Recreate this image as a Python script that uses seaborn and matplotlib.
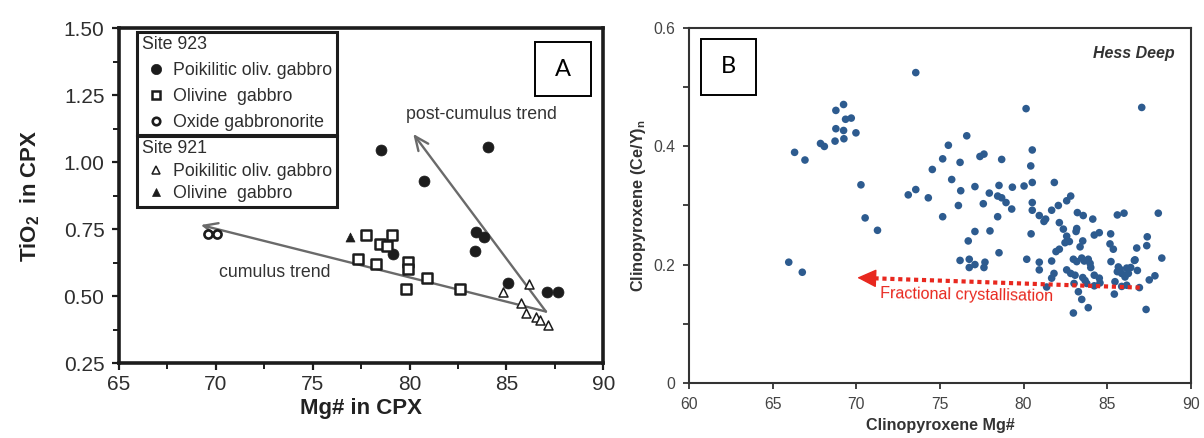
import numpy as np
import pandas as pd
import matplotlib
matplotlib.use("Agg")
import matplotlib.pyplot as plt
import seaborn as sns
from matplotlib.lines import Line2D
from matplotlib.patches import Rectangle

# ---------------- Panel A data (Mg# in CPX vs TiO2 in CPX) ----------------
a_poik923_x = [78.55, 84.07, 80.76, 83.45, 83.86, 83.38, 79.16, 85.07, 87.10, 87.68]
a_poik923_y = [1.047, 1.057, 0.930, 0.740, 0.722, 0.668, 0.658, 0.548, 0.517, 0.517]
a_olgab923_x = [77.75, 78.47, 79.08, 78.85, 77.35, 78.27, 79.94, 79.94, 79.80, 80.88, 82.60]
a_olgab923_y = [0.730, 0.697, 0.730, 0.687, 0.640, 0.619, 0.629, 0.603, 0.528, 0.568, 0.528]
a_oxide923_x = [69.60, 70.05]
a_oxide923_y = [0.732, 0.732]
a_poik921_x = [84.83, 86.15, 85.74, 86.02, 86.54, 86.75, 87.17]
a_poik921_y = [0.517, 0.547, 0.475, 0.437, 0.421, 0.411, 0.392]
a_olgab921_x = [76.90]
a_olgab921_y = [0.722]

a_labels_923 = ["Poikilitic oliv. gabbro", "Olivine  gabbro", "Oxide gabbronorite"]
a_labels_921 = ["Poikilitic oliv. gabbro", "Olivine  gabbro"]

# trend arrows (start -> tip) in data units
cumulus_start = (87.04, 0.443)
cumulus_tip = (69.22, 0.766)
postcum_start = (87.04, 0.443)
postcum_tip = (80.19, 1.106)

# ---------------- Panel B data (Clinopyroxene Mg# vs (Ce/Y)n) ----------------
b_x = [65.95, 66.76, 66.30, 66.92, 67.85, 68.08, 68.72, 68.77, 68.77, 69.23,
       69.23, 69.25, 69.35, 69.69, 69.97, 70.27, 70.52, 71.26,
       73.55, 80.15, 87.07, 76.60, 75.50, 75.16, 76.20, 74.54, 77.39, 77.63,
       78.69, 80.52, 80.43, 75.70, 73.55, 73.10, 74.30, 76.24, 76.10, 75.16,
       77.09, 77.95, 77.59, 78.53, 78.45, 78.69, 78.95, 79.33, 79.29, 78.45,
       80.03, 80.52, 80.52, 80.52, 81.84, 80.94, 81.32, 81.22, 81.68, 82.08,
       82.58, 82.82, 77.09, 77.99, 76.69, 78.53, 80.45, 80.19, 76.20, 76.75,
       77.09, 76.75, 77.69, 77.63, 80.94, 80.94, 81.68, 82.14, 82.38, 83.22,
       83.57, 84.14, 83.18, 83.14, 82.58, 82.48, 82.74, 82.14, 81.94, 83.54,
       83.38, 84.23, 84.53, 85.17, 85.37, 85.21, 85.61, 86.01, 88.06, 86.77,
       87.37, 88.27, 86.63, 82.98, 83.18, 83.48, 83.63, 83.87, 83.98, 84.02,
       82.58, 82.82, 83.08, 83.54, 83.68, 83.78, 84.23, 84.53, 84.57, 84.23,
       81.82, 81.68, 81.38, 83.02, 83.28, 83.48, 82.98, 83.87, 87.33, 85.43,
       85.87, 86.17, 86.93, 85.47, 85.67, 85.77, 85.61, 85.87, 86.17, 86.41,
       86.27, 86.07, 85.23, 86.67, 86.81, 87.52, 87.86, 87.40]
b_y = [0.204, 0.187, 0.390, 0.377, 0.405, 0.400, 0.409, 0.430, 0.461, 0.471,
       0.427, 0.413, 0.446, 0.448, 0.423, 0.335, 0.279, 0.258,
       0.525, 0.464, 0.466, 0.418, 0.402, 0.379, 0.373, 0.361, 0.383, 0.387,
       0.378, 0.394, 0.367, 0.344, 0.327, 0.318, 0.313, 0.325, 0.300, 0.281,
       0.332, 0.321, 0.303, 0.334, 0.316, 0.313, 0.305, 0.331, 0.294, 0.281,
       0.333, 0.339, 0.305, 0.292, 0.339, 0.283, 0.277, 0.273, 0.292, 0.300,
       0.308, 0.316, 0.256, 0.257, 0.240, 0.220, 0.252, 0.209, 0.207, 0.209,
       0.200, 0.195, 0.204, 0.195, 0.204, 0.191, 0.206, 0.271, 0.260, 0.288,
       0.283, 0.277, 0.261, 0.256, 0.248, 0.237, 0.239, 0.226, 0.222, 0.240,
       0.230, 0.250, 0.254, 0.235, 0.226, 0.252, 0.284, 0.287, 0.287, 0.228,
       0.232, 0.211, 0.207, 0.209, 0.205, 0.211, 0.206, 0.209, 0.202, 0.195,
       0.191, 0.185, 0.182, 0.178, 0.173, 0.168, 0.182, 0.177, 0.169, 0.164,
       0.185, 0.177, 0.162, 0.168, 0.154, 0.141, 0.118, 0.127, 0.124, 0.150,
       0.163, 0.165, 0.161, 0.171, 0.196, 0.192, 0.188, 0.185, 0.194, 0.195,
       0.185, 0.179, 0.205, 0.208, 0.190, 0.174, 0.181, 0.247]

fc_start = (86.95, 0.161)
fc_base = (71.00, 0.1768)
fc_tip = (70.05, 0.1778)

# ---------------- style ----------------
sns.set_theme(style="ticks")
plt.rcParams["font.family"] = ["Liberation Sans", "DejaVu Sans"]
plt.rcParams["mathtext.fontset"] = "custom"
plt.rcParams["mathtext.rm"] = "Liberation Sans"
plt.rcParams["mathtext.bf"] = "Liberation Sans:bold"
plt.rcParams["mathtext.it"] = "Liberation Sans:italic"

fig = plt.figure(figsize=(12.04, 4.38), dpi=100)
fig.patch.set_facecolor("white")
axA = fig.add_axes([0.09884, 0.17055, 0.40224, 0.76484])
axB = fig.add_axes([0.57251, 0.12626, 0.41645, 0.80913])

# ================= Panel A =================
ink = "#1c1c1c"
dfA = pd.concat([
    pd.DataFrame({"mg": a_poik923_x, "ti": a_poik923_y, "grp": "p923"}),
    pd.DataFrame({"mg": a_olgab923_x, "ti": a_olgab923_y, "grp": "o923"}),
    pd.DataFrame({"mg": a_oxide923_x, "ti": a_oxide923_y, "grp": "x923"}),
    pd.DataFrame({"mg": a_poik921_x, "ti": a_poik921_y, "grp": "p921"}),
    pd.DataFrame({"mg": a_olgab921_x, "ti": a_olgab921_y, "grp": "o921"}),
])
styles = {
    "p923": dict(marker="o", s=62, color=ink, edgecolor=ink, linewidth=0.5),
    "o923": dict(marker="s", s=44, color="white", edgecolor=ink, linewidth=1.8),
    "x923": dict(marker="o", s=34, color="white", edgecolor=ink, linewidth=1.9),
    "p921": dict(marker="^", s=42, color="white", edgecolor=ink, linewidth=1.1),
    "o921": dict(marker="^", s=42, color=ink, edgecolor=ink, linewidth=0.5),
}
for g, st in styles.items():
    sub = dfA[dfA["grp"] == g]
    sns.scatterplot(data=sub, x="mg", y="ti", ax=axA, legend=False, zorder=3, **st)

arrow_kw = dict(arrowstyle="->,head_length=0.5,head_width=0.22", color="#6a6a6a",
                lw=1.7, shrinkA=0, shrinkB=0, mutation_scale=20)
axA.annotate("", xy=cumulus_tip, xytext=cumulus_start, arrowprops=arrow_kw, zorder=2)
axA.annotate("", xy=postcum_tip, xytext=postcum_start, arrowprops=arrow_kw, zorder=2)
axA.text(79.8, 1.180, "post-cumulus trend", fontsize=12.8, color="#333333",
         ha="left", va="center")
axA.text(70.15, 0.587, "cumulus trend", fontsize=12.8, color="#333333",
         ha="left", va="center")

axA.set_xlim(65, 90)
axA.set_ylim(0.25, 1.50)
axA.set_xticks(np.arange(65, 91, 5))
axA.set_xticks(np.arange(67.5, 90, 5), minor=True)
axA.set_yticks(np.arange(0.25, 1.51, 0.25))
axA.set_yticks(np.arange(0.375, 1.5, 0.25), minor=True)
axA.set_yticklabels([f"{v:.2f}" for v in np.arange(0.25, 1.51, 0.25)])
axA.tick_params(axis="both", which="major", direction="out", length=5, width=1.6,
                color=ink, labelsize=15, labelcolor="#2e2e2e")
axA.tick_params(axis="y", which="major", pad=5.5)
axA.tick_params(axis="x", which="major", pad=3.5)
axA.tick_params(axis="both", which="minor", direction="out", length=4, width=1.4, color=ink)
for sp in axA.spines.values():
    sp.set_visible(True)
    sp.set_linewidth(2.6)
    sp.set_color(ink)
axA.set_xlabel("Mg# in CPX", fontsize=16, fontweight="bold", color="#222222")
axA.set_ylabel(r"TiO$_\mathbf{2}$  in CPX", fontsize=16, fontweight="bold", color="#222222")
axA.xaxis.set_label_coords(0.5, -0.105)
axA.yaxis.set_label_coords(-0.158, 0.5)

# legends
def h(marker, ms, mfc, mew):
    return Line2D([], [], ls="none", marker=marker, ms=ms, mfc=mfc, mec=ink, mew=mew)

h923 = [h("o", 7.4, ink, 0.5), h("s", 6.2, "white", 1.8), h("o", 5.4, "white", 1.9)]
h921 = [h("^", 6.0, "white", 1.1), h("^", 6.0, ink, 0.5)]
leg_common = dict(loc="upper left", mode="expand", fontsize=12.8, title_fontsize=12.8,
                  frameon=True, fancybox=False, framealpha=1, edgecolor=ink,
                  borderpad=0.25, handlelength=1.55, handletextpad=0.2,
                  borderaxespad=0, alignment="left", labelcolor="#2e2e2e")
leg1 = axA.legend(handles=h923, labels=a_labels_923, title="Site 923",
                  bbox_to_anchor=(0.0378, 0.9899, 0.413, 0), labelspacing=0.5, **leg_common)
leg1.get_frame().set_linewidth(2.2)
leg1.get_title().set_color("#2e2e2e")
axA.add_artist(leg1)
leg2 = axA.legend(handles=h921, labels=a_labels_921, title="Site 921",
                  bbox_to_anchor=(0.0378, 0.6785, 0.413, 0), labelspacing=0.3, **leg_common)
leg2.get_frame().set_linewidth(2.2)
leg2.get_title().set_color("#2e2e2e")

# ================= Panel B =================
blue = "#2d5b8f"
dfB = pd.DataFrame({"mg": b_x, "cey": b_y})
sns.scatterplot(data=dfB, x="mg", y="cey", ax=axB, color=blue, s=30,
                edgecolor="none", linewidth=0, legend=False, zorder=3)

red = "#e8281f"
axB.plot([fc_start[0], fc_base[0]], [fc_start[1], fc_base[1]], color=red, lw=3.0,
         ls=(0, (1.0, 0.9)), solid_capstyle="butt", dash_capstyle="butt", zorder=4)
axB.annotate("", xy=fc_tip, xytext=fc_base,
             arrowprops=dict(arrowstyle="-|>,head_length=0.75,head_width=0.36",
                             color=red, lw=1.0, shrinkA=0, shrinkB=0, mutation_scale=16),
             zorder=4)
axB.text(71.42, 0.1485, "Fractional crystallisation", fontsize=11.6, color=red,
         ha="left", va="center", rotation=-1.0, zorder=4)
axB.text(0.9687, 0.9275, "Hess Deep", transform=axB.transAxes, fontsize=11.5,
         fontweight="bold", fontstyle="italic", color="#333333", ha="right", va="center")

axB.set_xlim(60, 90)
axB.set_ylim(0, 0.6)
axB.set_xticks(np.arange(60, 91, 5))
axB.set_yticks(np.arange(0, 0.61, 0.2))
axB.set_yticklabels(["0", "0.2", "0.4", "0.6"])
axB.set_yticks(np.arange(0.1, 0.6, 0.2), minor=True)
axB.tick_params(axis="both", which="both", direction="out", length=4.5, width=1.3,
                color="#333333", labelsize=11.3, labelcolor="#444444")
axB.tick_params(axis="y", which="major", pad=5.5)
axB.tick_params(axis="x", which="major", pad=5.5)
for sp in axB.spines.values():
    sp.set_visible(True)
    sp.set_linewidth(1.5)
    sp.set_color("#333333")
axB.set_xlabel("Clinopyroxene Mg#", fontsize=11.6, fontweight="bold", color="#333333")
axB.set_ylabel(r"Clinopyroxene (Ce/Y)$_\mathbf{n}$", fontsize=11.7, fontweight="bold",
               color="#333333")
axB.xaxis.set_label_coords(0.5, -0.10)
axB.yaxis.set_label_coords(-0.083, 0.5)

# ================= panel letter boxes =================
for (x0, y0, w, hgt, letter) in [(0.4444, 0.7808, 0.04651, 0.1233, "A"),
                                 (0.5822, 0.7831, 0.04568, 0.1279, "B")]:
    fig.add_artist(Rectangle((x0, y0), w, hgt, transform=fig.transFigure,
                             facecolor="white", edgecolor="black", lw=1.4, zorder=10))
    fig.text(x0 + w / 2, y0 + hgt / 2, letter, fontsize=17, family=["Lato", "DejaVu Sans"],
             ha="center", va="center", color="black", zorder=11)

fig.savefig("out.png", dpi=100, facecolor="white")
